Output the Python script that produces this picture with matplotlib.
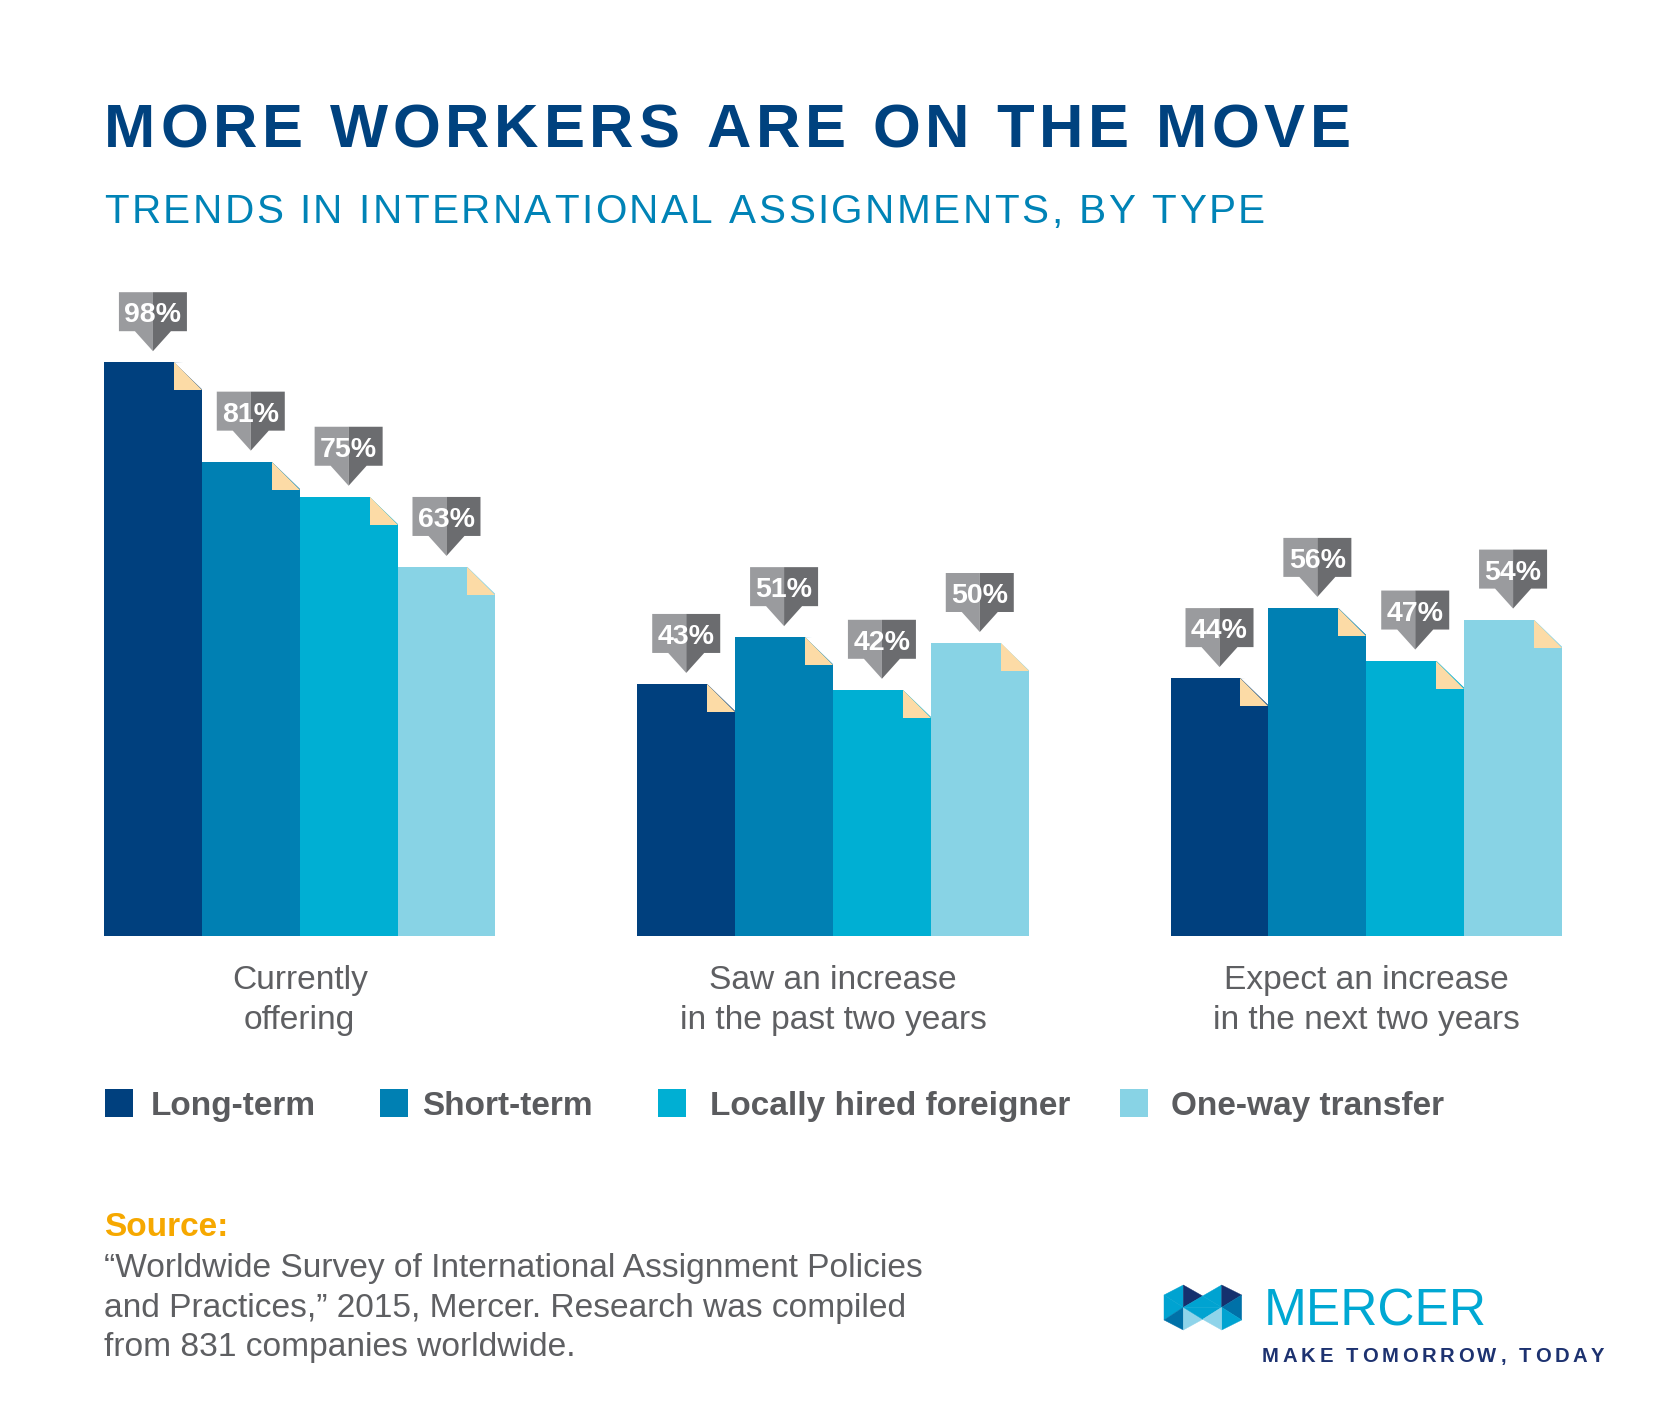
import matplotlib
matplotlib.use('Agg')
import matplotlib.pyplot as plt
from matplotlib.patches import Polygon, Rectangle
from matplotlib.font_manager import FontProperties, findfont
from matplotlib.ft2font import FT2Font
from matplotlib.transforms import blended_transform_factory

plt.rcParams['font.family'] = ['Liberation Sans', 'DejaVu Sans']

# Données
groups = ['Currently\noffering',
          'Saw an increase\nin the past two years',
          'Expect an increase\nin the next two years']
series = ['Long-term', 'Short-term', 'Locally hired foreigner', 'One-way transfer']
long_term = [98, 43, 44]
short_term = [81, 51, 56]
locally_hired = [75, 42, 47]
one_way = [63, 50, 54]
values = [long_term, short_term, locally_hired, one_way]
colors = ['#00407e', '#0080b3', '#00afd3', '#88d3e5']

source_lines = ['\u201cWorldwide Survey of International Assignment Policies',
                'and Practices,\u201d 2015, Mercer. Research was compiled',
                'from 831 companies worldwide.']

W, H, DPI = 1667, 1419, 100
GRAY = '#5e5f62'

fig = plt.figure(figsize=(W / DPI, H / DPI), dpi=DPI)
fig.patch.set_facecolor('white')

# axe de fond en pixels pour les textes et le logo
bg = fig.add_axes([0, 0, 1, 1])
bg.set_xlim(0, W)
bg.set_ylim(H, 0)
bg.axis('off')


def tracked(x, y, s, size, weight, color, track):
    # texte avec espacement des lettres
    fp = FontProperties(family='Liberation Sans', weight=weight, size=size)
    font = FT2Font(findfont(fp))
    font.set_size(size, DPI)
    for ch in s:
        bg.text(x, y, ch, fontproperties=fp, color=color, ha='left', va='baseline')
        x += font.load_char(ord(ch)).linearHoriAdvance / 65536 + track


tracked(104, 147, 'MORE WORKERS ARE ON THE MOVE', 44.3, 'bold', '#00427f', 4.8)
tracked(104, 223, 'TRENDS IN INTERNATIONAL ASSIGNMENTS, BY TYPE', 29.2, 'normal', '#0083b6', 2.5)

# axe des barres
base_px = 935.5
px_per_pct = 5.85
ax = fig.add_axes([104 / W, (H - base_px) / H, 1458 / W, 120 * px_per_pct / H])
ax.set_xlim(-2, 12.9)
ax.set_ylim(0, 120)
ax.axis('off')
ax.patch.set_visible(False)

px_per_x = 1458 / 14.9
fx, fy = 28 / px_per_x, 28 / px_per_pct            # coin replié
gap, tri_h, box_h = 11 / px_per_pct, 20 / px_per_pct, 39 / px_per_pct
box_w, tri_w = 68 / px_per_x, 36 / px_per_x
group_x = [g * 5.45 for g in range(len(groups))]

for j, vals in enumerate(values):
    xs = [gx + j - 1.5 for gx in group_x]
    ax.bar(xs, vals, width=1.0, color=colors[j], linewidth=0, zorder=2)
    for xc, v in zip(xs, vals):
        xr = xc + 0.5
        ax.add_patch(Polygon([(xr - fx, v), (xr + 0.01, v + 0.1), (xr + 0.01, v - fy)],
                             closed=True, facecolor='white', linewidth=0, zorder=2))
        ax.add_patch(Polygon([(xr - fx, v), (xr - fx, v - fy), (xr, v - fy)],
                             closed=True, facecolor='#fcdba6', linewidth=0, zorder=2))
        # étiquette
        tip = v + gap
        b0 = tip + tri_h
        b1 = b0 + box_h
        ax.add_patch(Polygon([(xc - box_w / 2, b1), (xc, b1), (xc, tip),
                              (xc - tri_w / 2, b0), (xc - box_w / 2, b0)],
                             closed=True, facecolor='#9a9b9e', linewidth=0, zorder=3, clip_on=False))
        ax.add_patch(Polygon([(xc + box_w / 2, b1), (xc, b1), (xc, tip),
                              (xc + tri_w / 2, b0), (xc + box_w / 2, b0)],
                             closed=True, facecolor='#6b6c6f', linewidth=0, zorder=3, clip_on=False))
        ax.text(xc, b0 + (box_h - 21 / px_per_pct) / 2, f'{v}%', color='white',
                fontsize=20.5, fontweight='bold', ha='center', va='baseline', zorder=4)

# catégories
trans = blended_transform_factory(ax.transData, bg.transData)
for gx, label in zip(group_x, groups):
    for k, line in enumerate(label.split('\n')):
        ax.text(gx, 989 + k * 40, line, transform=trans, ha='center', va='baseline',
                fontsize=24.1, color=GRAY)

# légende
sq_x = [105, 380, 658, 1120]
txt_x = [151, 422, 710, 1171]
for name, c, sx, tx in zip(series, colors, sq_x, txt_x):
    bg.add_patch(Rectangle((sx, 1089), 28, 28, facecolor=c, linewidth=0))
    bg.text(tx, 1115, name, fontsize=24.0, fontweight='bold', color='#5a5b5e',
            ha='left', va='baseline')

# source
bg.text(104, 1236, 'Source:', fontsize=24.1, fontweight='bold', color='#f6a800',
        ha='left', va='baseline')
for k, line in enumerate(source_lines):
    bg.text(104, 1277 + k * 39.5, line, fontsize=24.1, color=GRAY, ha='left', va='baseline')

# logo Mercer
def lp(px, py):
    return (1160 + px / 3, 1280 + py / 3)

logo = [
    ([(12, 45), (70, 15), (70, 82)], '#00a3d1'),
    ([(12, 45), (70, 82), (12, 120)], '#00a3d1'),
    ([(70, 15), (128, 48), (70, 82)], '#15306e'),
    ([(70, 82), (128, 48), (185, 82)], '#00a3d1'),
    ([(128, 48), (185, 15), (185, 82)], '#00a3d1'),
    ([(185, 15), (245, 45), (185, 82)], '#15306e'),
    ([(245, 45), (245, 120), (185, 82)], '#0071a8'),
    ([(185, 82), (245, 120), (185, 150)], '#00a3d1'),
    ([(12, 120), (70, 82), (70, 150)], '#0071a8'),
    ([(70, 82), (128, 118), (70, 150)], '#8fd4ea'),
    ([(70, 82), (185, 82), (128, 118)], '#00a3d1'),
    ([(128, 118), (185, 82), (185, 150)], '#8fd4ea'),
]
for pts, c in logo:
    bg.add_patch(Polygon([lp(*p) for p in pts], closed=True, facecolor=c,
                         edgecolor=c, linewidth=0.3))

bg.text(1264, 1325, 'MERCER', fontsize=37, color='#00a8d3', ha='left', va='baseline')
tracked(1262, 1362, 'MAKE TOMORROW, TODAY', 14.6, 'bold', '#1d3270', 3.7)

fig.savefig('out.png', dpi=DPI, facecolor='white')
